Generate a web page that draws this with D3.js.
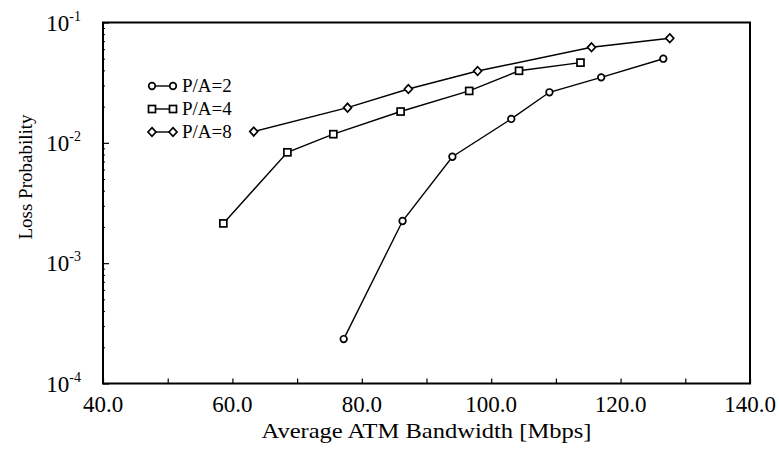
<!DOCTYPE html>
<html>
<head>
<meta charset="utf-8">
<script src="https://cdn.jsdelivr.net/npm/d3@7.9.0/dist/d3.min.js"></script>
<style>
  body { margin: 0; background: #fff; }
  svg { display: block; }
  text { font-family: "Liberation Serif", "Times New Roman", serif; fill: #000; }
</style>
</head>
<body>
<svg id="chart" width="779" height="449"></svg>
<script>
// === Data ===
const pa2X = [77.2, 86.3, 94.0, 103.1, 109.0, 117.0, 126.6];
const pa2Y = [2.34e-4, 2.24e-3, 7.66e-3, 1.58e-2, 2.63e-2, 3.5e-2, 5.0e-2];

const pa4X = [58.6, 68.5, 75.6, 86.0, 96.6, 104.3, 113.8];
const pa4Y = [2.14e-3, 8.34e-3, 1.18e-2, 1.82e-2, 2.7e-2, 3.97e-2, 4.64e-2];

const pa8X = [63.3, 77.8, 87.2, 97.9, 115.5, 127.6];
const pa8Y = [1.24e-2, 1.96e-2, 2.8e-2, 3.95e-2, 6.22e-2, 7.4e-2];

const seriesNames = ['P/A=2', 'P/A=4', 'P/A=8'];
const seriesMarkers = ['circle', 'square', 'diamond'];

const xTicks = [40, 60, 80, 100, 120, 140];
const xMinorTicks = [50, 70, 90, 110, 130];
const yTicks = [1e-4, 1e-3, 1e-2, 1e-1];
const yExponents = ['-4', '-3', '-2', '-1'];

// === Scales ===
const plotLeft = 103, plotRight = 750, plotTop = 22.5, plotBottom = 383.5;
const x = d3.scaleLinear().domain([40, 140]).range([plotLeft, plotRight]);
const y = d3.scaleLog().domain([1e-4, 1e-1]).range([plotBottom, plotTop]);

const svg = d3.select('#chart');

// minor log ticks (2..9 per decade)
const yMinor = [];
yTicks.slice(0, -1).forEach((d) => {
  for (let k = 2; k <= 9; k++) yMinor.push(d * k);
});

// === Axes ===
svg.append('g')
  .attr('transform', `translate(0,${plotBottom})`)
  .call(d3.axisBottom(x).tickValues(xTicks.concat(xMinorTicks)).tickSize(-5).tickFormat(''))
  .call((g) => g.select('.domain').remove())
  .selectAll('line').attr('stroke', '#000').attr('stroke-width', 1.2);

svg.append('g')
  .attr('transform', `translate(${plotLeft},0)`)
  .call(d3.axisLeft(y).tickValues(yTicks).tickSize(-6).tickFormat(''))
  .call((g) => g.select('.domain').remove())
  .selectAll('line').attr('stroke', '#000').attr('stroke-width', 1.2);

svg.append('g')
  .attr('transform', `translate(${plotLeft},0)`)
  .call(d3.axisLeft(y).tickValues(yMinor).tickSize(-2).tickFormat(''))
  .call((g) => g.select('.domain').remove())
  .selectAll('line').attr('stroke', '#000').attr('stroke-width', 1);

// frame
svg.append('rect')
  .attr('x', plotLeft).attr('y', plotTop)
  .attr('width', plotRight - plotLeft).attr('height', plotBottom - plotTop)
  .attr('fill', 'none').attr('stroke', '#000').attr('stroke-width', 2);

// x tick labels
svg.append('g').selectAll('text')
  .data(xTicks)
  .join('text')
  .attr('x', (d) => x(d))
  .attr('y', 412)
  .attr('text-anchor', 'middle')
  .attr('font-size', 23)
  .text((d) => d.toFixed(1));

// y tick labels 10^n
const yLab = svg.append('g').selectAll('text')
  .data(yTicks)
  .join('text')
  .attr('x', 81)
  .attr('y', (d) => y(d) + 8)
  .attr('text-anchor', 'end')
  .attr('font-size', 23);
yLab.append('tspan').text('10');
yLab.append('tspan')
  .attr('font-size', 14)
  .attr('dy', -10)
  .text((d, i) => yExponents[i]);

// axis titles
svg.append('text')
  .attr('x', (plotLeft + plotRight) / 2)
  .attr('y', 438)
  .attr('text-anchor', 'middle')
  .attr('font-size', 22)
  .attr('textLength', 330)
  .attr('lengthAdjust', 'spacingAndGlyphs')
  .text('Average ATM Bandwidth [Mbps]');

svg.append('text')
  .attr('transform', 'translate(32,177) rotate(-90)')
  .attr('text-anchor', 'middle')
  .attr('font-size', 19)
  .text('Loss Probability');

// === Markers ===
function drawMarker(g, type, cx, cy) {
  if (type === 'circle') {
    g.append('circle').attr('cx', cx).attr('cy', cy).attr('r', 3.3);
  } else if (type === 'square') {
    g.append('rect').attr('x', cx - 3.5).attr('y', cy - 3.5).attr('width', 7).attr('height', 7);
  } else {
    g.append('path').attr('d', `M${cx},${cy - 4.3}L${cx + 4},${cy}L${cx},${cy + 4.3}L${cx - 4},${cy}Z`);
  }
}

const line = d3.line().x((d) => x(d[0])).y((d) => y(d[1]));
const allSeries = [
  d3.zip(pa2X, pa2Y),
  d3.zip(pa4X, pa4Y),
  d3.zip(pa8X, pa8Y),
];

allSeries.forEach((pts, i) => {
  svg.append('path')
    .attr('d', line(pts))
    .attr('fill', 'none')
    .attr('stroke', '#000')
    .attr('stroke-width', 1.4);
  const mg = svg.append('g').attr('fill', '#fff').attr('stroke', '#000').attr('stroke-width', 1.7);
  pts.forEach((p) => drawMarker(mg, seriesMarkers[i], x(p[0]), y(p[1])));
});

// === Legend ===
const legendRows = [86, 109, 132];
seriesNames.forEach((name, i) => {
  const ly = legendRows[i];
  svg.append('line')
    .attr('x1', 152).attr('x2', 173)
    .attr('y1', ly).attr('y2', ly)
    .attr('stroke', '#000').attr('stroke-width', 1.4);
  const mg = svg.append('g').attr('fill', '#fff').attr('stroke', '#000').attr('stroke-width', 1.7);
  drawMarker(mg, seriesMarkers[i], 152, ly);
  drawMarker(mg, seriesMarkers[i], 173, ly);
  svg.append('text')
    .attr('x', 182)
    .attr('y', ly + 6)
    .attr('font-size', 19)
    .text(name);
});
</script>
</body>
</html>
